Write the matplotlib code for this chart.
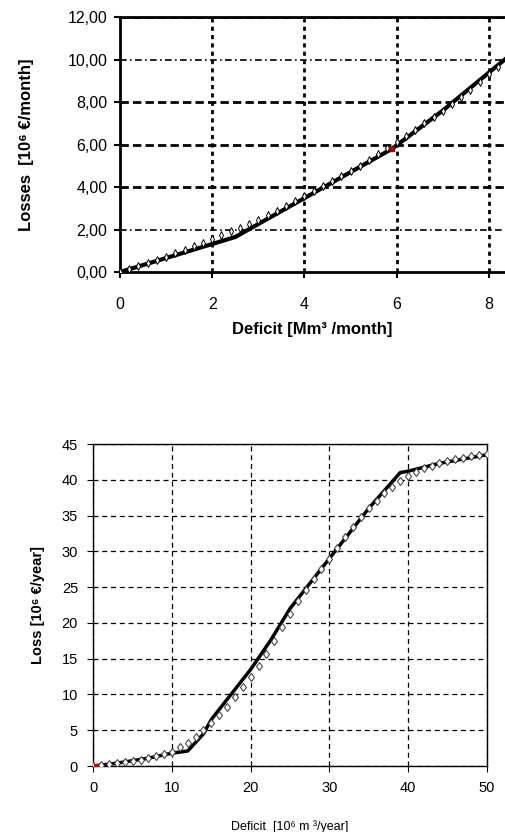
import numpy as np
import matplotlib
matplotlib.use('agg')
import matplotlib.pyplot as plt
from matplotlib.ticker import FuncFormatter

plt.rcParams['font.family'] = ['Liberation Sans', 'DejaVu Sans']

# monthly curve (top)
m_line_x = [0, 2.5, 5.9, 7.0, 8.4]
m_line_y = [0, 1.65, 5.8, 7.6, 10.1]
m_mark_x = [0, 0.2, 0.4, 0.6, 0.8, 1.0, 1.2, 1.4, 1.6, 1.8, 2.0, 2.2, 2.4, 2.6, 2.8,
            3.0, 3.2, 3.4, 3.6, 3.8, 4.0, 4.2, 4.4, 4.6, 4.8, 5.0, 5.2, 5.4, 5.6,
            5.8, 6.0, 6.2, 6.4, 6.6, 6.8, 7.0, 7.2, 7.4, 7.6, 7.8, 8.0, 8.2]
m_mark_y = [0, 0.14, 0.28, 0.43, 0.57, 0.72, 0.88, 1.04, 1.21, 1.38, 1.56, 1.74, 1.91, 2.09, 2.27,
            2.45, 2.67, 2.89, 3.12, 3.36, 3.6, 3.82, 4.04, 4.27, 4.51, 4.75, 5.0, 5.27, 5.54,
            5.82, 6.1, 6.4, 6.7, 7.0, 7.3, 7.6, 7.92, 8.24, 8.57, 8.93, 9.3, 9.66]
m_red = (5.9, 5.8)

# yearly curve (bottom)
y_line_x = [0, 3, 7, 10, 12, 14, 15, 17.5, 20, 22.5, 25, 27.5, 30, 32.5, 35, 37, 39, 40, 44, 50]
y_line_y = [0, 0.4, 1.1, 1.8, 2.1, 4.5, 6.5, 10.0, 13.5, 17.5, 22.0, 25.5, 29.0, 32.5, 36.0, 38.5, 41.0, 41.2, 42.3, 43.5]
y_mark_x = [0, 1, 2, 3, 4, 5, 6, 7, 8, 9, 10, 11, 12, 13, 14, 15, 16, 17, 18, 19, 20,
            21, 22, 23, 24, 25, 26, 27, 28, 29, 30, 31, 32, 33, 34, 35, 36, 37, 38, 39,
            40, 41, 42, 43, 44, 45, 46, 47, 48, 49, 50]
y_mark_y = [0, 0.15, 0.3, 0.45, 0.6, 0.75, 0.9, 1.1, 1.4, 1.7, 2.0, 2.6, 3.2, 4.0, 5.0, 6.0,
            7.1, 8.3, 9.6, 11.0, 12.4, 14.0, 15.7, 17.5, 19.4, 21.3, 23.0, 24.6, 26.1, 27.6,
            29.0, 30.5, 32.0, 33.4, 34.8, 36.0, 37.1, 38.1, 39.0, 39.8, 40.5, 41.1, 41.6,
            42.0, 42.3, 42.6, 42.9, 43.1, 43.3, 43.4, 43.6]

fig = plt.figure(figsize=(5.05, 8.32), dpi=100)

# ---- top chart
ax1 = fig.add_axes([0.2376, 0.673, 0.7624, 0.3065])
ax1.set_xlim(0, 8.35)
ax1.set_ylim(0, 12)
ax1.set_xticks([0, 2, 4, 6, 8])
ax1.set_yticks([0, 2, 4, 6, 8, 10, 12])
for yv in [2, 4, 6, 8, 10, 12]:
    if yv in (2, 10):
        ax1.axhline(yv, color='black', lw=1.2, ls=(0, (4, 2, 1, 2)), zorder=1)
    else:
        ax1.axhline(yv, color='black', lw=2, ls=(0, (3, 1.5)), zorder=1)
for xv in [2, 4, 6, 8]:
    ax1.axvline(xv, color='black', lw=2, ls=(0, (1.5, 1.5)), zorder=1)
ax1.plot(m_line_x, m_line_y, color='black', lw=3, zorder=3)
ax1.plot(m_mark_x, m_mark_y, ls='none', marker='d', ms=4, mfc='white', mec='black',
         mew=0.7, zorder=4)
ax1.plot([m_red[0]], [m_red[1]], 's', color='#a00000', ms=3, zorder=5)
for s in ['left', 'bottom', 'top']:
    ax1.spines[s].set_linewidth(2)
ax1.spines['right'].set_visible(False)
ax1.yaxis.set_major_formatter(FuncFormatter(lambda v, p: f'{v:.2f}'.replace('.', ',')))
ax1.tick_params(labelsize=11.5, width=1.5, length=4)
ax1.tick_params(axis='x', pad=14)
ax1.tick_params(axis='y', pad=5)
ax1.set_xlabel('Deficit [Mm³ /month]', fontsize=12, fontweight='bold', labelpad=7)
ax1.set_ylabel('Losses  [10⁶ €/month]', fontsize=12, fontweight='bold', labelpad=24)

# ---- bottom chart
ax2 = fig.add_axes([0.1848, 0.0793, 0.7789, 0.387])
ax2.set_xlim(0, 50)
ax2.set_ylim(0, 45)
ax2.set_xticks(range(0, 51, 10))
ax2.set_yticks(range(0, 46, 5))
ax2.grid(True, color='black', lw=0.9, ls=(0, (4, 3)))
ax2.set_axisbelow(True)
ax2.plot(y_line_x, y_line_y, color='black', lw=2.5, zorder=3)
ax2.plot(y_mark_x, y_mark_y, ls='none', marker='d', ms=4.5, mfc='white', mec='#333333',
         mew=0.7, zorder=4)
ax2.plot([0.3], [0], 's', color='#c00000', ms=2.5, zorder=5)
for s in ax2.spines.values():
    s.set_linewidth(1)
ax2.tick_params(labelsize=10.5, length=4, pad=7)
ax2.set_xlabel('Deficit  [10⁶ m ³/year]', fontsize=9, labelpad=18)
ax2.set_ylabel('Loss [10⁶ €/year]', fontsize=10.5, fontweight='bold', labelpad=12)

fig.savefig('out.png', dpi=100)
